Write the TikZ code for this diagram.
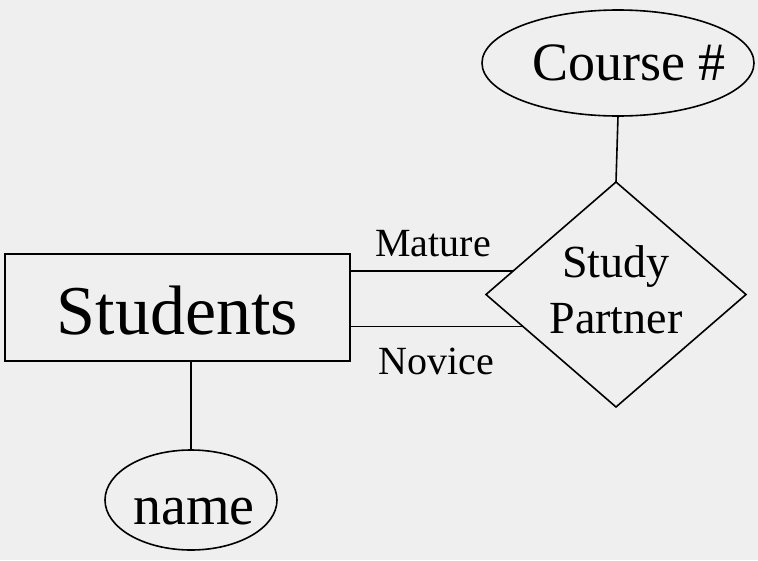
\documentclass[tikz,border=0pt]{standalone}
\usepackage{fontspec}
\setmainfont{Liberation Serif}
\usetikzlibrary{shapes.geometric}
\definecolor{bggray}{RGB}{239,239,239}
\tikzset{%
  entity/.style={draw, rectangle, minimum width=345pt, minimum height=107pt,
    inner sep=0pt, outer sep=0pt, font=\fontsize{70}{84}\selectfont},
  attrib/.style={draw, ellipse, inner sep=0pt, outer sep=0pt},
  relship/.style={draw, diamond, minimum width=260pt, minimum height=225pt,
    inner sep=0pt, outer sep=0pt, font=\fontsize{46}{56}\selectfont},
  rolelabel/.style={inner sep=0pt, font=\fontsize{40}{46}\selectfont}
}
\newcommand{\shiftdown}[2]{\raisebox{-#1}[\height][\depth]{#2}}
\begin{document}
\begin{tikzpicture}[x=1pt, y=-1pt, line width=1.6pt]
\fill[bggray] (0,0) rectangle (758,560);
\useasboundingbox (0,0) rectangle (758,560);

\node[entity] (students) at (177.5,307.5) {\shiftdown{3pt}{Students}};
\node[attrib, minimum width=172pt, minimum height=100pt,
  font=\fontsize{56}{64}\selectfont] (name) at (191,500)
  {\makebox[0pt]{\hspace*{6pt}\shiftdown{12pt}{name}}};
\node[relship] (partner) at (616,294.5)
  {\makebox[0pt]{\raisebox{-6pt}[0pt][0pt]{\begin{tabular}{@{}c@{}}Study\\Partner\end{tabular}}}};
\node[attrib, minimum width=272pt, minimum height=106pt,
  font=\fontsize{54}{62}\selectfont] (course) at (618,63)
  {\makebox[0pt]{\hspace*{22pt}Course \#}};

% attributes
\draw (name.north |- students.south) -- (name.north);
\draw (course.south) -- (partner.north);

% the two roles
\draw (students.east |- partner.167) -- (partner.167);
\draw (students.east |- partner.199.5) -- (partner.199.5);
\node[rolelabel] (mature) at (433,244) {Mature};
\node[rolelabel] (novice) at (436,361) {Novice};

\end{tikzpicture}
\end{document}
